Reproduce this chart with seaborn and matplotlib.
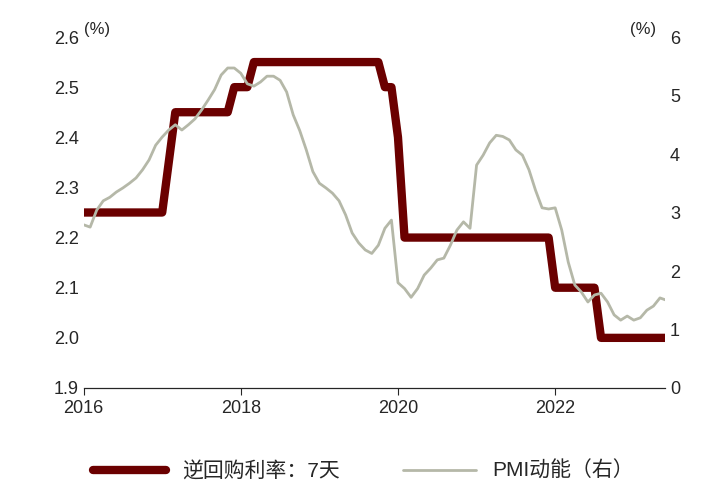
import matplotlib
matplotlib.use("Agg")
import matplotlib.pyplot as plt
import seaborn as sns
import numpy as np
import pandas as pd

# 月度数据, 2016-01 起
pmi = [2.79, 2.75, 3.04, 3.2, 3.26, 3.35, 3.42, 3.5, 3.59, 3.73, 3.9, 4.15,
       4.29, 4.41, 4.5, 4.41, 4.5, 4.6, 4.75, 4.92, 5.1, 5.35, 5.47, 5.47,
       5.38, 5.2, 5.16, 5.23, 5.33, 5.33, 5.26, 5.06, 4.67, 4.4, 4.07, 3.7,
       3.5, 3.42, 3.33, 3.2, 2.96, 2.65, 2.48, 2.36, 2.3, 2.44, 2.73, 2.87,
       1.8, 1.7, 1.55, 1.7, 1.93, 2.05, 2.19, 2.22, 2.44, 2.7, 2.84, 2.73,
       3.81, 3.98, 4.19, 4.32, 4.3, 4.24, 4.07, 3.98, 3.73, 3.38, 3.08, 3.06,
       3.08, 2.7, 2.15, 1.76, 1.64, 1.47, 1.59, 1.62, 1.47, 1.25, 1.16, 1.23,
       1.16, 1.2, 1.33, 1.4, 1.54, 1.5]
repo = ([2.25] * 13 + [2.35, 2.45] + [2.45] * 8 + [2.50] * 3 + [2.55] * 20
        + [2.50] * 2 + [2.40] + [2.20] * 23 + [2.10] * 7 + [2.00] * 20)
repo = repo[:len(pmi)]
t = 2016 + np.arange(len(pmi)) / 12

df = pd.DataFrame({"t": t, "repo": repo, "pmi": pmi})

sns.set_style("white")
plt.rcParams["font.family"] = ["Liberation Sans", "Noto Sans CJK SC"]
plt.rcParams["font.size"] = 13

fig = plt.figure(figsize=(7.27, 5.0), dpi=100)
ax = fig.add_axes([0.115, 0.224, 0.80, 0.702])
ax2 = ax.twinx()

sns.lineplot(data=df, x="t", y="repo", ax=ax, color="#6B0000", lw=6,
             label="逆回购利率：7天", legend=False)
sns.lineplot(data=df, x="t", y="pmi", ax=ax2, color="#B5B8A8", lw=2,
             label="PMI动能（右）", legend=False)

ax.set_ylim(1.9, 2.6)
ax.set_yticks(np.arange(1.9, 2.61, 0.1))
ax.set_yticklabels([f"{v:.1f}" for v in np.arange(1.9, 2.61, 0.1)])
ax2.set_ylim(0, 6)
ax2.set_yticks(range(7))
ax.set_xlim(2016, 2023.4)
ax.set_xticks([2016, 2018, 2020, 2022])
ax.set_xticklabels(["2016", "2018", "2020", "2022"])
ax.set_xlabel(""); ax.set_ylabel(""); ax2.set_ylabel("")
for a in (ax, ax2):
    for s in ("top", "left", "right"):
        a.spines[s].set_visible(False)
    a.tick_params(length=0, labelsize=13)
ax.spines["bottom"].set_color("black")
ax.tick_params(axis="x", length=5, direction="out", bottom=True)
ax.text(0.0, 1.0, "(%)", transform=ax.transAxes, fontsize=12, va="bottom")
ax2.text(0.985, 1.0, "(%)", transform=ax.transAxes, fontsize=12, va="bottom", ha="right")

h1, l1 = ax.get_legend_handles_labels()
h2, l2 = ax2.get_legend_handles_labels()
fig.legend(h1 + h2, l1 + l2, loc="lower center", ncol=2, frameon=False,
           fontsize=15, bbox_to_anchor=(0.5, 0.0), handlelength=3.5,
           columnspacing=3)

fig.savefig("out.png", dpi=100)
